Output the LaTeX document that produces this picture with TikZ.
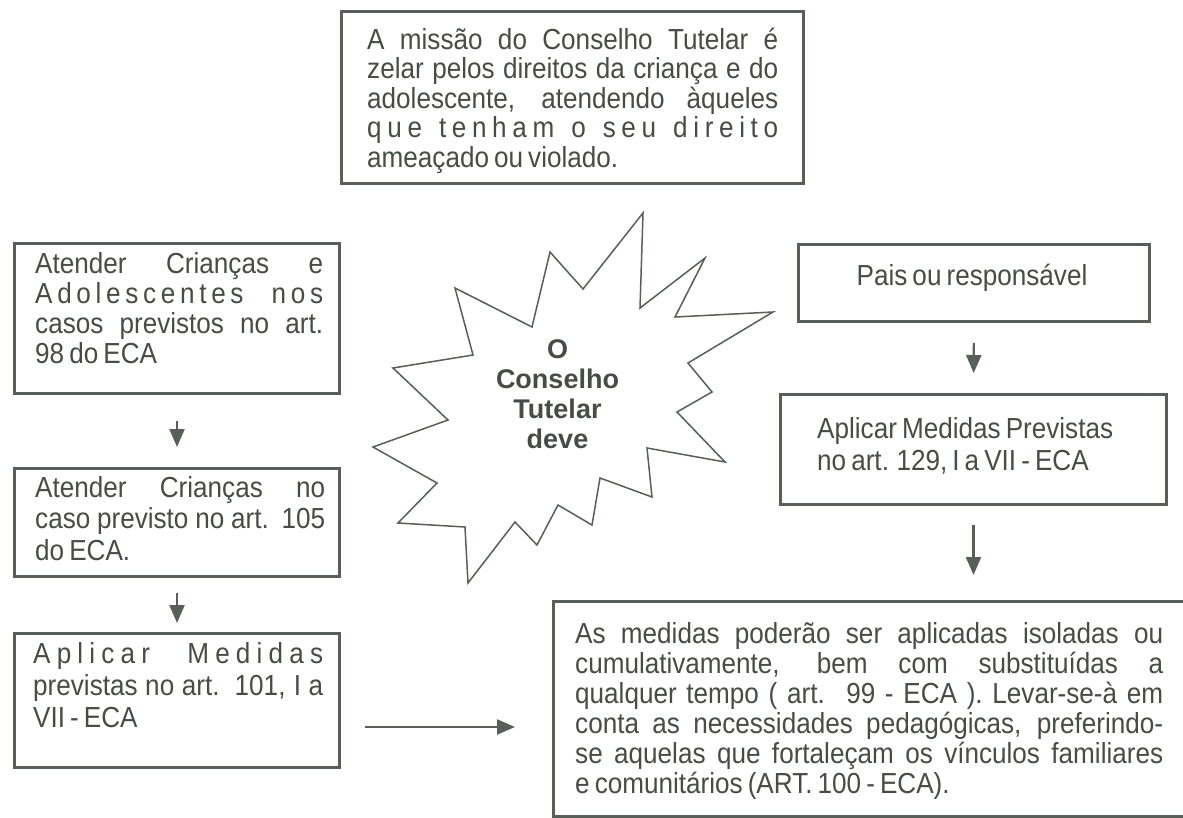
\documentclass[tikz,border=0pt]{standalone}
\usepackage{fontspec}
\setmainfont[WordSpace=0.7,FakeStretch=0.9]{Liberation Sans}
\newfontfamily\plainsans{Liberation Sans}
\usetikzlibrary{arrows.meta}
\definecolor{ink}{RGB}{88,94,88}
\definecolor{inkt}{RGB}{70,76,70}
\newcommand\LG{\hfill}
\newcommand\WG{\hfill\hfill\hfill}
\newcommand\WWG{\hfill\hfill\hfill\hfill\hfill\hfill}
\newcommand\Sx{\rule{0pt}{24pt}}
\newcommand\JL[2]{\makebox[#1][s]{#2}}
\newcommand\PL[2]{\makebox[#1][l]{#2}}
\begin{document}
\begin{tikzpicture}[x=1pt,y=-1pt,
  frame/.style={draw=ink,line width=3pt,inner sep=0pt,anchor=north west},
  txt/.style={inner sep=0pt,anchor=north west,align=left,text=inkt,font=\fontsize{29}{30}\selectfont},
  arr/.style={draw=ink,line width=2.2pt,-{Triangle[length=18pt,width=15pt]}},
  burst/.style={draw=ink,line width=1.5pt,line join=miter,fill=white}]
\useasboundingbox (0,0) rectangle (1183,817);
\clip (0,0) rectangle (1183,817);
\fill[white] (0,0) rectangle (1183,817);

% boxes
\node[frame,minimum width=462pt,minimum height=172pt] (top) at (340,10) {};
\node[frame,minimum width=325pt,minimum height=150pt] (b1) at (13,242) {};
\node[frame,minimum width=325pt,minimum height=108pt] (b2) at (13,467) {};
\node[frame,minimum width=325pt,minimum height=134pt] (b3) at (13,632) {};
\node[frame,minimum width=351pt,minimum height=77pt] (r1) at (797,243) {};
\node[frame,minimum width=386pt,minimum height=110pt] (r2) at (779,393) {};
\node[frame,minimum width=648pt,minimum height=215pt] (big) at (552,600) {};

% texts
\node[txt,font=\fontsize{29}{29.5}\selectfont] (ttop) at (367,25) {\Sx\JL{411pt}{A missão do Conselho Tutelar é}\\
\JL{411pt}{zelar pelos direitos da criança e do}\\
\JL{411pt}{adolescente, atendendo àqueles}\\
\PL{411pt}{q\LG u\LG e\WG t\LG e\LG n\LG h\LG a\LG m\WG o\WG s\LG e\LG u\WG d\LG i\LG r\LG e\LG i\LG t\LG o}\\
ameaçado ou violado.};

\node[txt] (tb1) at (35,249) {\Sx\JL{288pt}{Atender Crianças e}\\
\PL{288pt}{A\LG d\LG o\LG l\LG e\LG s\LG c\LG e\LG n\LG t\LG e\LG s\WWG n\LG o\LG s}\\
\JL{288pt}{casos previstos no art.}\\
98 do ECA};

\node[txt,font=\fontsize{29}{31.5}\selectfont] (tb2) at (35,473) {\Sx\JL{290pt}{Atender Crianças no}\\
\JL{290pt}{caso previsto no art. 105}\\
do ECA.};

\node[txt,font=\fontsize{29}{32}\selectfont] (tb3) at (33,639) {\Sx\PL{290pt}{A\LG p\LG l\LG i\LG c\LG a\LG r\WWG M\LG e\LG d\LG i\LG d\LG a\LG s}\\
\JL{290pt}{previstas no art. 101, I a}\\
VII - ECA};

\node[txt,anchor=base] (tr1) at (972,285) {Pais ou responsável};

\node[txt,font=\fontsize{29}{32}\selectfont] (tr2) at (817,414) {\Sx Aplicar Medidas Previstas\\
no art. 129, I a VII - ECA};

\node[txt] (tbig) at (575,619) {\Sx\JL{588pt}{As medidas poderão ser aplicadas isoladas ou}\\
\JL{588pt}{cumulativamente, bem com substituídas a}\\
\JL{588pt}{qualquer tempo ( art. 99 - ECA ). Levar-se-à em}\\
\JL{588pt}{conta as necessidades pedagógicas, preferindo-}\\
\JL{588pt}{se aquelas que fortaleçam os vínculos familiares}\\
e comunitários (ART. 100 - ECA).};

% starburst
\draw[burst] (643,213) -- (640,308) -- (705,258) -- (675,317) -- (773,312) -- (688,363)
  -- (712,392) -- (677,412) -- (725,462) -- (647,448) -- (652,497) -- (600,478)
  -- (592,525) -- (558,505) -- (537,545) -- (515,522) -- (468,583) -- (465,527)
  -- (398,523) -- (437,483) -- (373,447) -- (448,420) -- (393,368) -- (473,355)
  -- (455,288) -- (532,327) -- (550,252) -- (583,289) -- cycle;
\node[inner sep=0pt,anchor=north,align=center,text=inkt,font=\plainsans\bfseries\fontsize{27}{30}\selectfont] (star) at (557.5,334) {\Sx O\\Conselho\\Tutelar\\deve};

% connectors
\coordinate (hy) at (0,727);
\draw[arr,shorten <=26pt,shorten >=20pt] (b1.south) -- (b2.north);
\draw[arr,shorten <=15pt,shorten >=9pt] (b2.south) -- (b3.north);
\draw[arr,shorten <=24pt,shorten >=37pt] (b3.east |- hy) -- (big.west |- hy);
\draw[arr,shorten <=20pt,shorten >=20pt] (r1.south) -- (r2.north);
\draw[arr,shorten <=19pt,shorten >=25pt] (r2.south) -- (r2.south |- big.north);
\end{tikzpicture}
\end{document}
